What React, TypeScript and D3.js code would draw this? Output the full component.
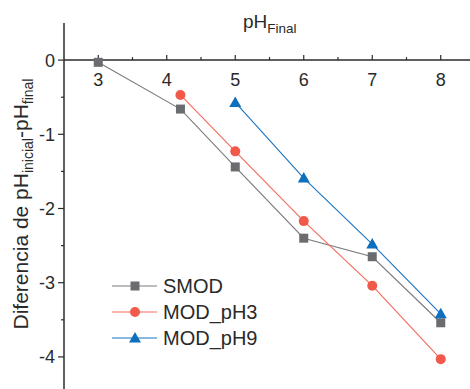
import React from "react";
import * as d3 from "d3";

const xSMOD = [3, 4.2, 5, 6, 7, 8];
const ySMOD = [-0.03, -0.66, -1.44, -2.4, -2.65, -3.54];
const xPH3 = [4.2, 5, 6, 7, 8];
const yPH3 = [-0.47, -1.23, -2.17, -3.04, -4.03];
const xPH9 = [5, 6, 7, 8];
const yPH9 = [-0.57, -1.59, -2.48, -3.42];
const xTicks = [3, 4, 5, 6, 7, 8];
const xMinor = [3.5, 4.5, 5.5, 6.5, 7.5];
const yTicks = [0, -1, -2, -3, -4];
const yMinor = [-0.5, -1.5, -2.5, -3.5];
const seriesNames = ["SMOD", "MOD_pH3", "MOD_pH9"];

const W = 470, H = 389;
const FONT = "'Liberation Sans', Arial, sans-serif";
const AXIS = "#2b2b2b";

export default function App() {
  const x = d3.scaleLinear().domain([2.5, 8.5]).range([64, 475]);
  const y = d3.scaleLinear().domain([0.5, -4.5]).range([23, 394]);
  const line = d3.line<[number, number]>().x(d => x(d[0])).y(d => y(d[1]));

  const series = [
    { name: seriesNames[0], xs: xSMOD, ys: ySMOD, line: "#7a7a7a", fill: "#6b6c70", shape: "square" },
    { name: seriesNames[1], xs: xPH3, ys: yPH3, line: "#f26a5c", fill: "#f15a4a", shape: "circle" },
    { name: seriesNames[2], xs: xPH9, ys: yPH9, line: "#1a74c2", fill: "#0f6fbf", shape: "triangle" },
  ];

  const marker = (shape: string, cx: number, cy: number, fill: string, key: any) => {
    if (shape === "square") return <rect key={key} x={cx - 4.5} y={cy - 4.5} width={9} height={9} fill={fill} />;
    if (shape === "circle") return <circle key={key} cx={cx} cy={cy} r={5} fill={fill} />;
    const s = 6;
    return <path key={key} d={`M${cx},${cy - s}L${cx + s},${cy + s * 0.75}L${cx - s},${cy + s * 0.75}Z`} fill={fill} />;
  };

  const y0 = y(0);
  const x0 = x(2.5);

  return (
    <svg width={W} height={H} style={{ position: "absolute", left: 0, top: 0, background: "#fff" }} fontFamily={FONT}>
      {/* x axis at y=0 */}
      <line x1={x0} x2={W} y1={y0} y2={y0} stroke={AXIS} strokeWidth={1.5} />
      {xTicks.map(t => (
        <g key={"xt" + t}>
          <line x1={x(t)} x2={x(t)} y1={y0} y2={y0 - 5} stroke={AXIS} strokeWidth={1.2} />
          <text x={x(t)} y={y0 + 26} textAnchor="middle" fontSize={18} fill="#2a2a2a">{t}</text>
        </g>
      ))}
      {xMinor.map(t => (
        <line key={"xm" + t} x1={x(t)} x2={x(t)} y1={y0} y2={y0 - 3} stroke={AXIS} strokeWidth={1.2} />
      ))}
      {/* y axis */}
      <line x1={x0} x2={x0} y1={y(0.5)} y2={H} stroke={AXIS} strokeWidth={1.5} />
      {yTicks.map(t => (
        <g key={"yt" + t}>
          <line x1={x0} x2={x0 - 6} y1={y(t)} y2={y(t)} stroke={AXIS} strokeWidth={1.2} />
          <text x={x0 - 9} y={y(t) + 6.5} textAnchor="end" fontSize={18} fill="#2a2a2a">{t === 0 ? "0" : "-" + Math.abs(t)}</text>
        </g>
      ))}
      {yMinor.map(t => (
        <line key={"ym" + t} x1={x0} x2={x0 - 3} y1={y(t)} y2={y(t)} stroke={AXIS} strokeWidth={1.2} />
      ))}
      {/* titles */}
      <text x={243} y={28} fontSize={19} fill="#2a2a2a">pH<tspan fontSize={13.5} dy={5}>Final</tspan></text>
      <text transform={`translate(28,204) rotate(-90)`} textAnchor="middle" fontSize={21} fill="#2a2a2a">
        Diferencia de pH<tspan fontSize={14} dy={5}>inicial</tspan><tspan dy={-5}>-pH</tspan><tspan fontSize={14} dy={5}>final</tspan>
      </text>
      {/* series */}
      {series.map((s, i) => {
        const pts = s.xs.map((v, j) => [v, s.ys[j]] as [number, number]);
        return (
          <g key={"s" + i}>
            <path d={line(pts) || ""} fill="none" stroke={s.line} strokeWidth={1.1} />
            {pts.map((p, j) => marker(s.shape, x(p[0]), y(p[1]), s.fill, j))}
          </g>
        );
      })}
      {/* legend */}
      {series.map((s, i) => {
        const ly = 286 + i * 26;
        return (
          <g key={"l" + i}>
            <line x1={112} x2={157} y1={ly} y2={ly} stroke={s.line} strokeWidth={1.1} />
            {marker(s.shape, 135, ly, s.fill, "m")}
            <text x={163} y={ly + 7} fontSize={20} fill="#2a2a2a">{s.name}</text>
          </g>
        );
      })}
    </svg>
  );
}
